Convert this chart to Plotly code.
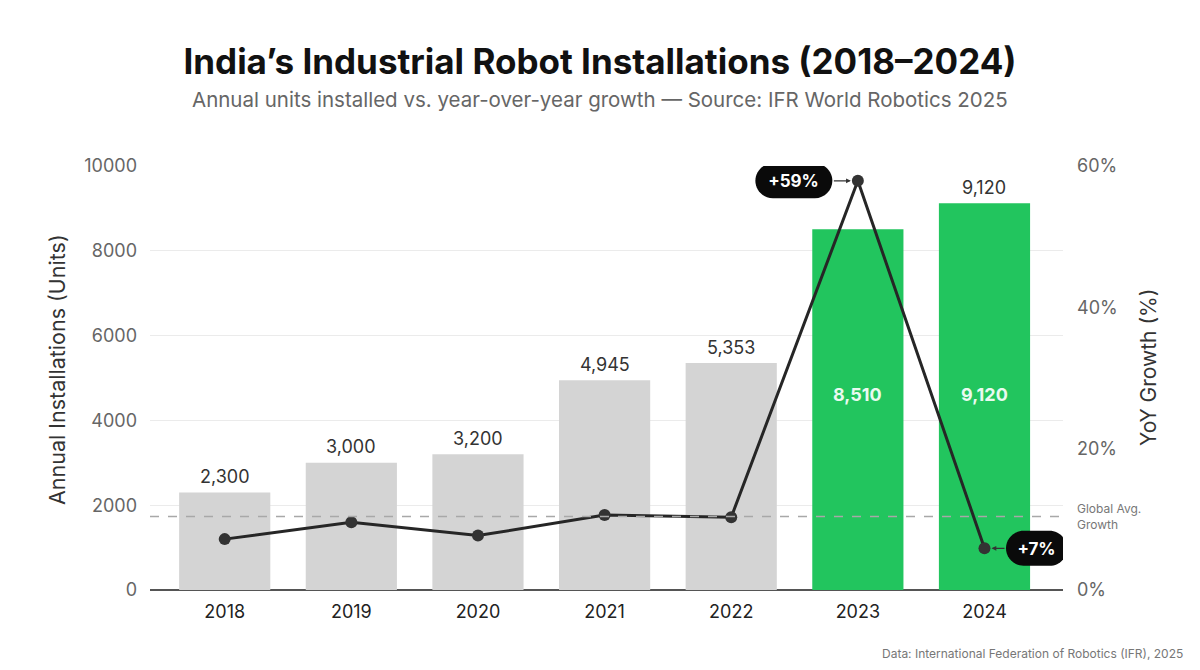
import plotly.graph_objects as go

years = [2018, 2019, 2020, 2021, 2022, 2023, 2024]
installs = [2300, 3000, 3200, 4945, 5353, 8510, 9120]
yoy_growth = [7.2, 9.6, 7.7, 10.6, 10.3, 57.9, 5.9]
highlight = [False, False, False, False, False, True, True]
global_avg = 10.4
tick_units = [0, 2000, 4000, 6000, 8000, 10000]
tick_pct = [0, 20, 40, 60]

GRAY = "#d4d4d4"
GREEN = "#22c55e"
FONT = "Inter"

# plot area in pixels (for converting text positions to paper coords)
PL, PR, PT, PB = 150, 1063, 166, 590


def px(x):
    return (x - PL) / (PR - PL)


def py(y):
    return (PB - y) / (PB - PT)


bar_colors = [GREEN if h else GRAY for h in highlight]

fig = go.Figure()
fig.add_trace(go.Bar(
    x=years, y=installs, width=0.72, marker=dict(color=bar_colors, line=dict(width=0)),
    hoverinfo="skip", showlegend=False, yaxis="y"))
fig.add_trace(go.Scatter(
    x=years, y=yoy_growth, yaxis="y2", mode="lines+markers",
    line=dict(color="#262626", width=3),
    marker=dict(size=12, color="#333333"), showlegend=False))

annotations = []
for yr, v, h in zip(years, installs, highlight):
    if yr == 2023:
        continue
    annotations.append(dict(x=yr, y=v, xref="x", yref="y", text=f"{v:,}", showarrow=False,
                            yshift=16, font=dict(family=FONT, size=18, color="#333333")))
for yr, v, h in zip(years, installs, highlight):
    if h:
        annotations.append(dict(x=yr, y=py(394), xref="x", yref="paper", text=f"<b>{v:,}</b>",
                                showarrow=False, font=dict(family=FONT, size=18, color="#eafaf0")))

callouts = [(2023, yoy_growth[5], "+59%", -64, 77), (2024, yoy_growth[6], "+7%", 52, 61)]
shapes = []
for yr, g, txt, ax, w in callouts:
    annotations.append(dict(x=yr, y=g, xref="x", yref="y2", text=f"<b>{txt}</b>",
                            showarrow=True, ax=ax, ay=0, width=w, height=35,
                            arrowcolor="#333333", arrowwidth=1.2, arrowhead=2, arrowsize=0.8,
                            standoff=7, font=dict(family=FONT, size=17, color="white")))
    x0 = ax - w / 2
    x1 = ax + w / 2
    hh = 17.5
    r = 17.5
    path = (f"M {x0+r},{-hh} L {x1-r},{-hh} C {x1-r*0.45},{-hh} {x1},{-hh+r*0.45} {x1},{-hh+r} "
            f"L {x1},{hh-r} C {x1},{hh-r*0.45} {x1-r*0.45},{hh} {x1-r},{hh} "
            f"L {x0+r},{hh} C {x0+r*0.45},{hh} {x0},{hh-r*0.45} {x0},{hh-r} "
            f"L {x0},{-hh+r} C {x0},{-hh+r*0.45} {x0+r*0.45},{-hh} {x0+r},{-hh} Z")
    shapes.append(dict(type="path", xref="x", yref="y2", xsizemode="pixel", ysizemode="pixel",
                       xanchor=yr, yanchor=g, path=path, fillcolor="#0a0a0a",
                       line=dict(width=0), layer="above"))

shapes.append(dict(type="line", xref="paper", yref="y2", x0=0, x1=1, y0=global_avg, y1=global_avg,
                   line=dict(color="#a8a8a8", width=1.5, dash="dash"), layer="above"))

annotations.append(dict(x=px(1075), y=global_avg, xref="paper", yref="y2", xanchor="left",
                        text="Global Avg.<br>Growth", showarrow=False, align="left",
                        font=dict(family=FONT, size=12, color="#777777")))

annotations.append(dict(x=0.5, y=py(100), xref="paper", yref="paper", xanchor="center",
                        yanchor="middle", xshift=-(PL + PR - 1200) / 2,
                        text="Annual units installed vs. year-over-year growth — Source: IFR World Robotics 2025",
                        showarrow=False, font=dict(family=FONT, size=20.5, color="#666666")))
annotations.append(dict(x=px(1185), y=py(653), xref="paper", yref="paper",
                        xanchor="right", yanchor="middle", showarrow=False,
                        text="Data: International Federation of Robotics (IFR), 2025",
                        font=dict(family=FONT, size=12, color="#777777")))

# axis titles
annotations.append(dict(x=px(57), y=py(370), xref="paper", yref="paper", xanchor="center",
                        yanchor="middle", textangle=-90, showarrow=False,
                        text="Annual Installations (Units)",
                        font=dict(family=FONT, size=21.5, color="#333333")))
annotations.append(dict(x=px(1148), y=py(368), xref="paper", yref="paper", xanchor="center",
                        yanchor="middle", textangle=-90, showarrow=False,
                        text="YoY Growth (%)",
                        font=dict(family=FONT, size=21, color="#333333")))

fig.update_layout(
    width=1200, height=670,
    margin=dict(l=PL, r=1200 - PR, t=PT, b=670 - PB),
    paper_bgcolor="white", plot_bgcolor="white",
    font=dict(family=FONT, color="#333333"),
    title=dict(text="<b>India’s Industrial Robot Installations (2018–2024)</b>",
               x=0.5, xanchor="center", y=1 - 62 / 670, yanchor="middle",
               font=dict(family=FONT, size=35, color="#111111")),
    xaxis=dict(range=[2017.41, 2024.62], tickvals=years, ticktext=[str(y) for y in years],
               showgrid=False, zeroline=False, showline=False, ticks="",
               ticklabelstandoff=9,
               tickfont=dict(family=FONT, size=18, color="#222222")),
    yaxis=dict(range=[0, 10000], tickvals=tick_units, ticktext=[str(t) for t in tick_units],
               showgrid=True, gridcolor="#ebebeb", gridwidth=1,
               zeroline=True, zerolinecolor="#555555", zerolinewidth=1.5,
               showline=False, ticks="", ticklabelstandoff=12,
               tickfont=dict(family=FONT, size=18, color="#666666")),
    yaxis2=dict(range=[0, 60], overlaying="y", side="right", tickvals=tick_pct,
                ticktext=[f"{t}%" for t in tick_pct], showgrid=False, zeroline=False,
                showline=False, ticks="", ticklabelstandoff=13,
                tickfont=dict(family=FONT, size=18, color="#666666")),
    annotations=annotations,
    shapes=shapes,
    bargap=0.28,
)

fig.write_html("out.html")
